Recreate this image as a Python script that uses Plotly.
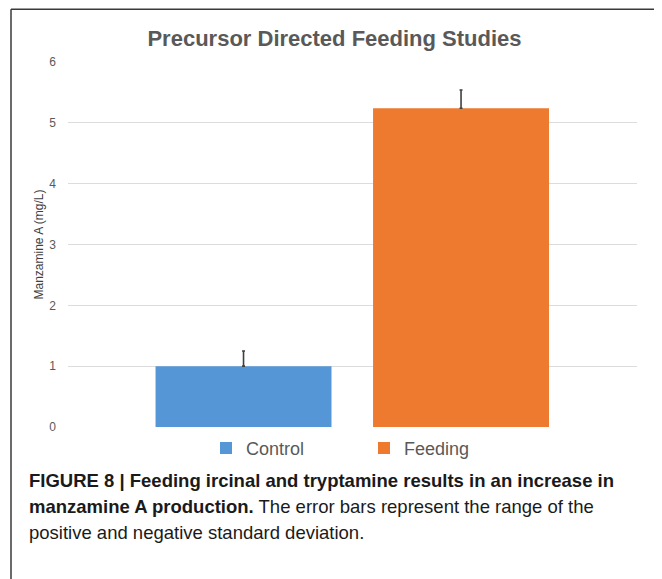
import plotly.graph_objects as go

categories = ["Control", "Feeding"]
values = [1.0, 5.24]
errors = [0.25, 0.30]
colors = ["#5596d6", "#ed7a2e"]
y_ticks = [0, 1, 2, 3, 4, 5, 6]

W, H = 662, 579
OFF = 8  # page offset of the rendered figure
PX0, PX1 = 68, 637        # plot area x extent (page px)
PY0, PY1 = 61.7, 426.7    # plot area y extent (page px)
L = PX0 - OFF
R = W - (PX1 - OFF)
T = PY0 - OFF
B = H - (PY1 - OFF)
pw, ph = PX1 - PX0, PY1 - PY0


def px_x(x):
    return (x - PX0) / pw


def px_y(y):
    return (PY1 - y) / ph


FONT = "Liberation Sans, Arial, sans-serif"

fig = go.Figure()
for i, (c, v, e, col) in enumerate(zip(categories, values, errors, colors)):
    fig.add_trace(go.Bar(
        x=[i], y=[v], name=c, width=0.809,
        marker=dict(color=col, line=dict(width=0)),
        error_y=dict(type="data", array=[e], symmetric=False, arrayminus=[0],
                     color="#404040", thickness=1.6, width=1.5),
    ))

shapes = [
    dict(type="line", xref="paper", yref="paper", x0=px_x(11), x1=px_x(11),
         y0=px_y(9), y1=px_y(H + 20), line=dict(color="#3a3a3a", width=1.5)),
    dict(type="line", xref="paper", yref="paper", x0=px_x(11), x1=px_x(W + 20),
         y0=px_y(9), y1=px_y(9), line=dict(color="#3a3a3a", width=1.5)),
]

cap_font = dict(family=FONT, size=18.5, color="#1a1a1a")
lines = [
    "<b>FIGURE 8 | Feeding ircinal and tryptamine results in an increase in</b>",
    "<b>manzamine A production.</b> The error bars represent the range of the",
    "positive and negative standard deviation.",
]
annotations = []
for k, t in enumerate(lines):
    annotations.append(dict(
        text=t, xref="paper", yref="paper", x=px_x(27), y=px_y(480 + 26 * k),
        xanchor="left", yanchor="middle", showarrow=False, font=cap_font, align="left"))

fig.update_layout(
    width=W, height=H,
    margin=dict(l=L, r=R, t=T, b=B, autoexpand=False),
    paper_bgcolor="white", plot_bgcolor="white",
    barmode="overlay",
    title=dict(text="<b>Precursor Directed Feeding Studies</b>",
               x=(334.5 - OFF) / W, y=1 - (38 - OFF) / H,
               xanchor="center", yanchor="middle",
               font=dict(family=FONT, size=22, color="#595959")),
    xaxis=dict(range=[-0.807, 1.809], showticklabels=False, showgrid=False,
               zeroline=False, showline=False, ticks=""),
    yaxis=dict(range=[0, 6], tickvals=y_ticks, showgrid=True, gridcolor="#dcdcdc",
               gridwidth=1, zeroline=False, showline=False, ticks="",
               ticklabelstandoff=11,
               tickfont=dict(family=FONT, size=12, color="#595959"),
               title=dict(text="Manzamine A (mg/L)", standoff=3,
                          font=dict(family=FONT, size=12, color="#404040"))),
    legend=dict(orientation="h", x=px_x(206), xanchor="left", y=px_y(448), yanchor="middle",
                font=dict(family=FONT, size=18, color="#595959"),
                entrywidth=113, entrywidthmode="pixels", itemwidth=30),
    shapes=shapes,
    annotations=annotations,
    showlegend=True,
)

fig.write_html("out.html")
